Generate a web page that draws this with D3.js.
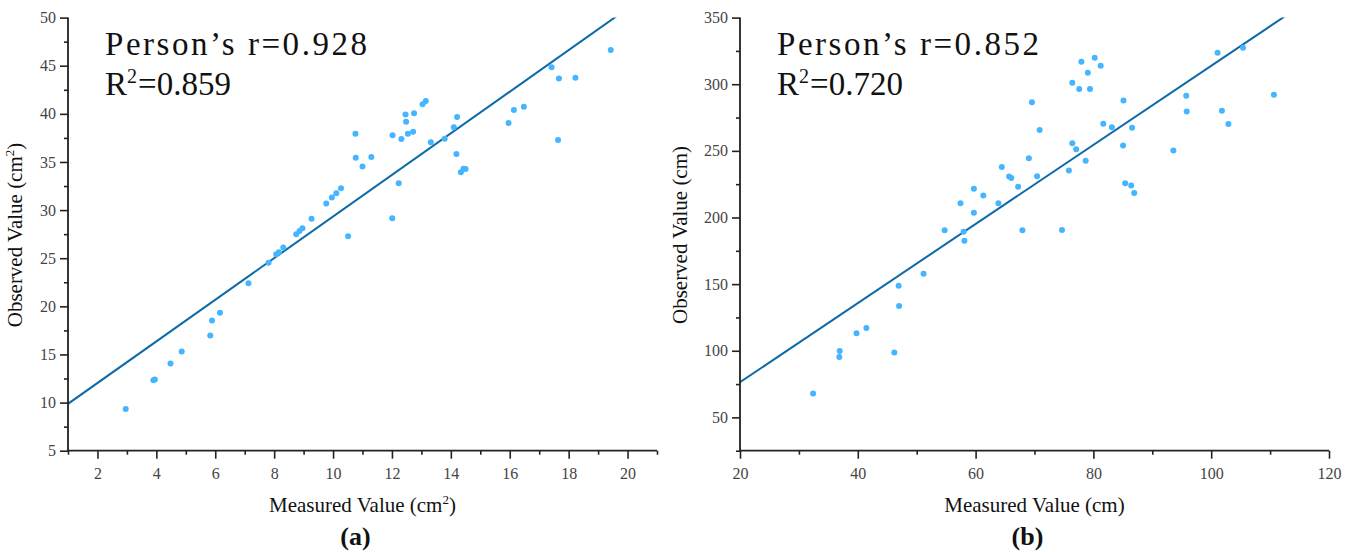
<!DOCTYPE html>
<html lang="en">
<head>
<meta charset="UTF-8">
<title>Measured vs observed</title>
<script src="https://cdn.jsdelivr.net/npm/d3@7"></script>
<style>
    body { margin: 0; background: #fff; }
    .tick text { font-family: "Liberation Serif", serif; font-size: 16px; fill: #444; }
    .tick line { stroke: #222; }
    .dot { fill: #45b5ff; }
    .fit { stroke: #0b6aa8; stroke-width: 2; fill: none; }
    .lab { font-family: "Liberation Serif", "DejaVu Serif", serif; font-size: 21px; fill: #111; }
    .panel { font-family: "Liberation Serif", serif; font-size: 26px; font-weight: bold; fill: #111; }
    .stat { font-family: "Liberation Serif", serif; font-size: 33px; fill: #111; }
</style>
</head>
<body>
<svg width="1354" height="552"></svg>
<script>
// panel (a): area
const measuredA = [2.96, 3.90, 3.95, 4.48, 4.86, 5.83, 5.89, 6.16, 7.13, 7.81, 8.07, 8.16, 8.31, 8.75, 8.86, 8.96,
    9.27, 9.77, 9.96, 10.11, 10.27, 10.51, 10.76, 10.77, 11.00, 11.30, 12.01, 12.02, 12.23, 12.32, 12.46, 12.48,
    12.54, 12.72, 12.75, 13.04, 13.15, 13.32, 13.79, 14.10, 14.19, 14.21, 14.34, 14.43, 14.50, 15.96, 16.14,
    16.48, 17.42, 17.64, 17.67, 18.23, 19.43];
const observedA = [9.32, 12.32, 12.40, 14.07, 15.32, 16.96, 18.54, 19.34, 22.41, 24.54, 25.41, 25.63, 26.11, 27.50, 27.83, 28.12,
    29.11, 30.68, 31.31, 31.74, 32.26, 27.28, 37.93, 35.44, 34.52, 35.51, 29.15, 37.78, 32.80, 37.38, 39.94, 39.17,
    37.93, 38.15, 40.05, 41.00, 41.33, 37.05, 37.41, 38.62, 35.84, 39.68, 33.94, 34.30, 34.27, 39.06, 40.41,
    40.74, 44.84, 37.27, 43.67, 43.74, 46.63];
const fitA = { slope: 2.162, intercept: 7.71 };
const statsA = { r: "0.928", r2: "0.859" };

// panel (b): height
const measuredB = [32.41, 36.93, 36.86, 39.78, 41.46, 46.20, 46.93, 47.01, 51.17, 54.74, 57.44, 57.96, 58.10, 59.71, 59.71,
    61.31, 63.87, 64.45, 65.69, 66.06, 67.22, 67.95, 69.05, 69.56, 70.44, 70.87, 74.67, 75.84, 76.42, 76.42, 77.08,
    77.59, 77.96, 78.69, 79.05, 79.42, 80.22, 81.24, 81.68, 83.14, 85.04, 85.11, 85.40, 86.42, 86.57, 86.93, 93.58,
    95.76, 95.84, 101.09, 101.82, 102.92, 105.40, 110.65];
const observedB = [67.9, 99.9, 95.4, 113.1, 117.0, 98.6, 148.7, 133.6, 157.7, 190.4, 210.7, 189.3, 182.5, 221.5, 203.6,
    216.5, 210.7, 237.9, 230.7, 229.7, 223.1, 190.4, 244.5, 286.4, 231.0, 265.6, 190.6, 235.2, 301.2, 255.8, 251.3,
    296.4, 316.8, 242.6, 308.6, 296.4, 319.9, 313.9, 270.3, 267.7, 254.0, 287.7, 225.7, 224.1, 267.4, 218.3, 250.3,
    291.4, 279.6, 323.6, 280.1, 270.1, 327.3, 292.2];
const fitB = { slope: 2.968, intercept: 17.04 };
const statsB = { r: "0.852", r2: "0.720" };

// axes
const xTicksA = d3.range(1, 22, 1), xLabelsA = d3.range(2, 21, 2);
const yTicksA = d3.range(5, 50.1, 2.5), yLabelsA = d3.range(5, 51, 5);
const xTicksB = d3.range(20, 121, 10), xLabelsB = d3.range(20, 121, 20);
const yTicksB = d3.range(25, 351, 25), yLabelsB = d3.range(50, 351, 50);

const svg = d3.select("svg");
const plotTop = 17.6, plotBottom = 450.7;

function panel(o) {
    const g = svg.append("g");
    const x = d3.scaleLinear().domain(o.xDomain).range([o.left, o.right]);
    const y = d3.scaleLinear().domain(o.yDomain).range([plotBottom, plotTop]);

    const clipId = "clip" + o.id;
    g.append("clipPath").attr("id", clipId)
        .append("rect").attr("x", o.left).attr("y", plotTop)
        .attr("width", o.right - o.left).attr("height", plotBottom - plotTop);

    // regression line
    const lineFn = d3.line().x(d => x(d)).y(d => y(o.fit.slope * d + o.fit.intercept));
    g.append("path").datum(o.xDomain).attr("class", "fit")
        .attr("clip-path", `url(#${clipId})`).attr("d", lineFn);

    g.selectAll("circle.dot").data(o.mx)
        .join("circle").attr("class", "dot")
        .attr("cx", d => x(d))
        .attr("cy", (d, i) => y(o.my[i]))
        .attr("r", 3);

    const fmt = lbls => d => lbls.includes(d) ? d : "";
    // labelled ticks long, the others short
    g.append("g").attr("transform", `translate(0,${plotBottom})`)
        .call(d3.axisBottom(x).tickValues(o.xTicks).tickFormat(fmt(o.xLabels)).tickSizeOuter(0).tickSize(8).tickPadding(9))
        .call(s => s.selectAll(".tick line").attr("stroke-width", 1.6)
            .filter(d => !o.xLabels.includes(d)).attr("y2", 4));
    g.append("g").attr("transform", `translate(${o.left},0)`)
        .call(d3.axisLeft(y).tickValues(o.yTicks).tickFormat(fmt(o.yLabels)).tickSizeOuter(0).tickSize(8).tickPadding(4))
        .call(s => s.selectAll(".tick line").attr("stroke-width", 1.6)
            .filter(d => !o.yLabels.includes(d)).attr("x2", -4));
    g.selectAll(".domain").remove();
    g.append("path").attr("fill", "none").attr("stroke", "#222").attr("stroke-width", 1.8)
        .attr("d", `M${o.left},${plotTop}V${plotBottom}H${o.right}`);

    // stats text
    g.append("text").attr("class", "stat").attr("x", o.left + o.statDx).attr("y", 55)
        .attr("textLength", 262).attr("lengthAdjust", "spacing")
        .text(`Person\u2019s r=${o.stats.r}`);
    const t2 = g.append("text").attr("class", "stat").attr("x", o.left + o.statDx).attr("y", 95);
    t2.append("tspan").text("R");
    t2.append("tspan").attr("font-size", 20).attr("dy", -12).text("2");
    t2.append("tspan").attr("dy", 12).attr("dx", 1).text(`=${o.stats.r2}`);

    // axis titles
    const midX = (o.left + o.right) / 2;
    const xl = g.append("text").attr("class", "lab").attr("x", midX).attr("y", 512).attr("text-anchor", "middle");
    xl.append("tspan").text(o.xUnit[0]);
    if (o.xUnit[1]) {
        xl.append("tspan").attr("font-size", 13).attr("dy", -8).text(o.xUnit[1]);
        xl.append("tspan").attr("dy", 8).text(")");
    }
    const yl = g.append("text").attr("class", "lab").attr("text-anchor", "middle")
        .attr("transform", `translate(${o.left - o.yLabDx},235) rotate(-90)`);
    yl.append("tspan").text(o.yUnit[0]);
    if (o.yUnit[1]) {
        yl.append("tspan").attr("font-size", 13).attr("dy", -8).text(o.yUnit[1]);
        yl.append("tspan").attr("dy", 8).text(")");
    }
    g.append("text").attr("class", "panel").attr("x", midX - 7).attr("y", 545)
        .attr("text-anchor", "middle").text(o.tag);
}

panel({
    id: "a", tag: "(a)", left: 68, right: 657, xDomain: [1, 21], yDomain: [5, 50],
    mx: measuredA, my: observedA, fit: fitA, stats: statsA,
    xTicks: xTicksA, xLabels: xLabelsA, yTicks: yTicksA, yLabels: yLabelsA,
    statDx: 37, yLabDx: 46,
    xUnit: ["Measured Value (cm", "2"], yUnit: ["Observed Value (cm", "2"]
});
panel({
    id: "b", tag: "(b)", left: 740, right: 1329, xDomain: [20, 120], yDomain: [25, 350],
    mx: measuredB, my: observedB, fit: fitB, stats: statsB,
    xTicks: xTicksB, xLabels: xLabelsB, yTicks: yTicksB, yLabels: yLabelsB,
    statDx: 37, yLabDx: 53,
    xUnit: ["Measured Value (cm)"], yUnit: ["Observed Value (cm)"]
});
</script>
</body>
</html>
